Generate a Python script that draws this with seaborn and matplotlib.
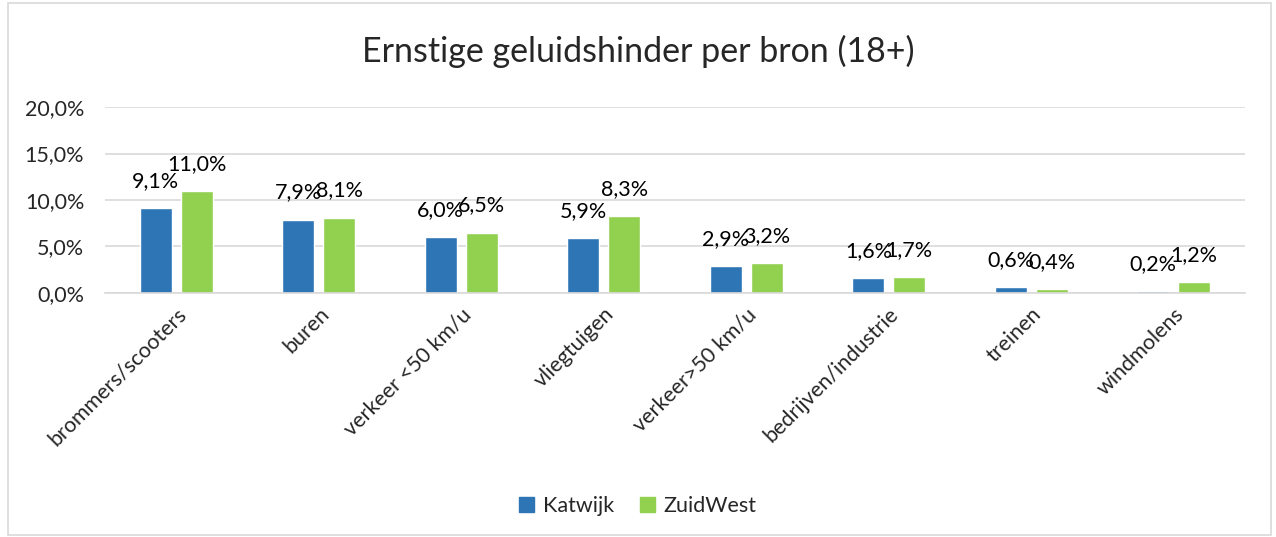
import matplotlib.pyplot as plt
import matplotlib.patches as mpatches
import pandas as pd
import seaborn as sns

categories = ['brommers/scooters', 'buren', 'verkeer <50 km/u', 'vliegtuigen',
              'verkeer>50 km/u', 'bedrijven/industrie', 'treinen', 'windmolens']
katwijk = [9.1, 7.9, 6.0, 5.9, 2.9, 1.6, 0.6, 0.2]
zuidwest = [11.0, 8.1, 6.5, 8.3, 3.2, 1.7, 0.4, 1.2]
series = ['Katwijk', 'ZuidWest']
colors = ['#2E75B6', '#92D050']

sns.set_style('white')
plt.rcParams['font.family'] = ['Lato', 'DejaVu Sans']

df = pd.DataFrame({'bron': categories * 2,
                   'waarde': katwijk + zuidwest,
                   'reeks': [series[0]] * len(categories) + [series[1]] * len(categories)})

fig = plt.figure(figsize=(12.76, 5.37), dpi=100)
ax = fig.add_axes([0.0823, 0.4544, 0.8934, 0.3463])

sns.barplot(data=df, x='bron', y='waarde', hue='reeks', palette=colors, saturation=1,
            width=0.574, gap=0.216, ax=ax, legend=False)

# data labels
for container in ax.containers:
    for bar in container:
        h = bar.get_height()
        ax.annotate(f'{h:.1f}%'.replace('.', ','),
                    (bar.get_x() + bar.get_width() / 2, h),
                    xytext=(0, 19.5), textcoords='offset points',
                    ha='center', va='center', fontsize=15.5, color='#000000')

ax.set_ylim(0, 20)
ax.set_yticks([0, 5, 10, 15, 20])
ax.set_yticklabels([f'{v:.1f}%'.replace('.', ',') for v in [0, 5, 10, 15, 20]], fontsize=15.5)
ax.set_xlim(-0.5, len(categories) - 0.5)
ax.set_xticks(range(len(categories)))
ax.set_xticklabels(categories, rotation=45, ha='right', rotation_mode='anchor', fontsize=15.5)
ax.tick_params(axis='x', length=0, pad=8)
ax.tick_params(axis='y', length=0, pad=15)
ax.set_xlabel('')
ax.set_ylabel('')
ax.yaxis.grid(True, color='#D9D9D9', linewidth=1.2)
ax.set_axisbelow(True)
for s in ['top', 'right', 'left']:
    ax.spines[s].set_visible(False)
ax.spines['bottom'].set_color('#D9D9D9')
ax.spines['bottom'].set_linewidth(1.2)

fig.text(0.5, 0.905, 'Ernstige geluidshinder per bron (18+)', ha='center', va='center', fontsize=24.5)

handles = [mpatches.Patch(color=c, label=l) for c, l in zip(colors, series)]
fig.legend(handles=handles, loc='center', bbox_to_anchor=(0.5, 0.058), ncol=2, frameon=False,
           fontsize=15.5, handlelength=0.7, handleheight=0.7, columnspacing=1.2, handletextpad=0.4)

# chart frame
fig.patches.append(mpatches.Rectangle((0.006, 0.004), 0.99, 0.99, transform=fig.transFigure,
                                      fill=False, edgecolor='#D9D9D9', linewidth=1.2))

fig.savefig('out.png', dpi=100)
